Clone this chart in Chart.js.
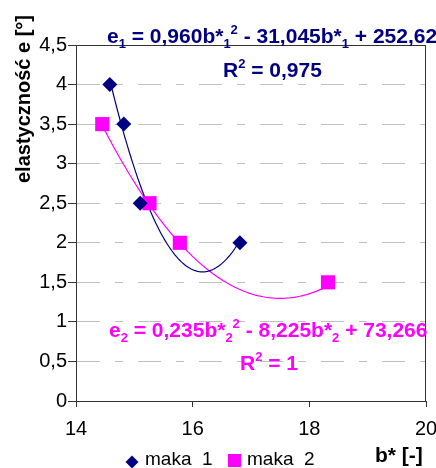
<!DOCTYPE html>
<html>
<head>
<meta charset="utf-8">
<script src="https://cdn.jsdelivr.net/npm/chart.js@4"></script>
<style>
html,body{margin:0;padding:0;background:#fff;}
#wrap{position:relative;width:436px;height:468px;}
</style>
</head>
<body>
<div id="wrap"><canvas id="c" width="436" height="468"></canvas></div>
<script>
// ---- data ----
const seriesNames = ['maka  1', 'maka  2'];
const maka1X = [14.58, 14.82, 15.10, 16.81];
const maka1Y = [4.0, 3.5, 2.5, 2.0];
const maka2X = [14.45, 15.26, 15.78, 18.32];
const maka2Y = [3.5, 2.5, 2.0, 1.5];
// polynomial trend line coefficients (a, b, c) as printed on the chart
const trend1Coef = [0.960, -31.045, 252.62];
const trend2Coef = [0.235, -8.225, 73.266];
const xTickLabels = ['14', '16', '18', '20'];
const yTickLabels = ['0', '0,5', '1', '1,5', '2', '2,5', '3', '3,5', '4', '4,5'];
const xTickValues = [14, 16, 18, 20];
const yTickValues = [0, 0.5, 1, 1.5, 2, 2.5, 3, 3.5, 4, 4.5];

const NAVY = '#000080';
const MAGENTA = '#FF00FF';
const FONT = '"Liberation Sans", Arial, sans-serif';

function pts(xs, ys) { return xs.map((x, i) => ({x: x, y: ys[i]})); }
function trendPts(coef, xs) {
  const lo = Math.min(...xs), hi = Math.max(...xs), n = 80, out = [];
  for (let i = 0; i <= n; i++) {
    const b = lo + (hi - lo) * i / n;
    out.push({x: b, y: coef[0] * b * b + coef[1] * b + coef[2]});
  }
  return out;
}

function drawRich(ctx, x, y, segs, size, color) {
  ctx.save();
  ctx.fillStyle = color;
  ctx.textBaseline = 'alphabetic';
  ctx.textAlign = 'left';
  let cx = x;
  for (const [t, mode] of segs) {
    let s = size, dy = 0;
    if (mode === 'sub') { s = Math.round(size * 0.62); dy = size * 0.22; }
    if (mode === 'sup') { s = Math.round(size * 0.62); dy = -size * 0.42; }
    ctx.font = 'bold ' + s + 'px ' + FONT;
    ctx.fillText(t, cx, y + dy);
    cx += ctx.measureText(t).width;
  }
  ctx.restore();
}

const decor = {
  id: 'decor',
  beforeDatasetsDraw(chart) {
    const {ctx, chartArea: a} = chart;
    ctx.save();
    ctx.strokeStyle = '#333';
    ctx.lineWidth = 1;
    ctx.strokeRect(Math.round(a.left) + 0.5, Math.round(a.top) + 0.5,
      Math.round(a.right - a.left) - 1, Math.round(a.bottom - a.top));
    ctx.restore();
  },
  afterDraw(chart) {
    const ctx = chart.ctx;
    // axis titles
    ctx.save();
    ctx.fillStyle = '#000';
    ctx.font = 'bold 21px ' + FONT;
    ctx.textAlign = 'left';
    ctx.textBaseline = 'middle';
    ctx.fillText('b* [-]', 375, 456);
    ctx.font = 'bold 20px ' + FONT;
    ctx.translate(24, 99);
    ctx.rotate(-Math.PI / 2);
    ctx.textAlign = 'center';
    ctx.fillText('elastyczność e [°]', 0, 0);
    ctx.restore();

    // legend
    ctx.save();
    ctx.fillStyle = NAVY;
    ctx.beginPath();
    ctx.moveTo(132, 455.5); ctx.lineTo(138.5, 462); ctx.lineTo(132, 468.5); ctx.lineTo(125.5, 462);
    ctx.closePath(); ctx.fill();
    ctx.fillStyle = MAGENTA;
    ctx.fillRect(228, 454, 13, 13);
    ctx.fillStyle = '#000';
    ctx.font = '19px ' + FONT;
    ctx.textBaseline = 'middle';
    ctx.textAlign = 'left';
    ctx.fillText(seriesNames[0], 145, 460);
    ctx.fillText(seriesNames[1], 247, 460);
    ctx.restore();

    // trend line equations
    drawRich(ctx, 107, 43, [['e', ''], ['1', 'sub'], [' = 0,960b*', ''], ['1', 'sub'], ['2', 'sup'],
      [' - 31,045b*', ''], ['1', 'sub'], [' + 252,62', '']], 21, NAVY);
    drawRich(ctx, 223, 77, [['R', ''], ['2', 'sup'], [' = 0,975', '']], 21, NAVY);
    drawRich(ctx, 109, 337, [['e', ''], ['2', 'sub'], [' = 0,235b*', ''], ['2', 'sub'], ['2', 'sup'],
      [' - 8,225b*', ''], ['2', 'sub'], [' + 73,266', '']], 21, MAGENTA);
    drawRich(ctx, 240, 370, [['R', ''], ['2', 'sup'], [' = 1', '']], 21, MAGENTA);
  }
};

new Chart(document.getElementById('c'), {
  type: 'scatter',
  data: {
    datasets: [
      {label: seriesNames[0], data: pts(maka1X, maka1Y), pointStyle: 'rectRot', pointRadius: 7.5,
        backgroundColor: NAVY, borderColor: NAVY, borderWidth: 0, order: 0},
      {label: seriesNames[1], data: pts(maka2X, maka2Y), pointStyle: 'rect', pointRadius: 10,
        backgroundColor: MAGENTA, borderColor: MAGENTA, borderWidth: 0, order: 0},
      {label: 'trend 1', data: trendPts(trend1Coef, maka1X), showLine: true, pointRadius: 0,
        borderColor: NAVY, borderWidth: 1.2, tension: 0, order: 1},
      {label: 'trend 2', data: trendPts(trend2Coef, maka2X), showLine: true, pointRadius: 0,
        borderColor: MAGENTA, borderWidth: 1.2, tension: 0, order: 1}
    ]
  },
  options: {
    responsive: false,
    animation: false,
    devicePixelRatio: 1,
    layout: {padding: {top: 45, right: 6, left: 0, bottom: 0}},
    plugins: {legend: {display: false}, tooltip: {enabled: false}},
    scales: {
      x: {
        type: 'linear', min: 14, max: 20,
        afterBuildTicks: s => { s.ticks = xTickValues.map(v => ({value: v})); },
        afterFit: s => { s.height = 67; s.paddingLeft = 0; s.paddingRight = 0; },
        ticks: {
          autoSkip: false, maxRotation: 0, padding: 10, color: '#000',
          font: {family: FONT, size: 20},
          callback: (v) => xTickLabels[xTickValues.indexOf(v)]
        },
        grid: {drawOnChartArea: false, drawTicks: true, tickLength: 6, tickColor: '#333', tickWidth: 1},
        border: {display: true, color: '#333', width: 1}
      },
      y: {
        type: 'linear', min: 0, max: 4.5,
        afterBuildTicks: s => { s.ticks = yTickValues.map(v => ({value: v})); },
        afterFit: s => { s.width = 76; s.paddingTop = 0; s.paddingBottom = 0; },
        ticks: {
          autoSkip: false, padding: 1, color: '#000',
          font: {family: FONT, size: 20},
          callback: (v) => yTickLabels[yTickValues.indexOf(v)]
        },
        grid: {color: '#c0c0c0', lineWidth: 1, drawTicks: true, tickLength: 8, tickColor: '#333', tickWidth: 1, tickBorderDash: []},
        border: {display: true, color: '#333', width: 1, dash: [23, 15, 8, 15]}
      }
    }
  },
  plugins: [decor]
});
</script>
</body>
</html>
